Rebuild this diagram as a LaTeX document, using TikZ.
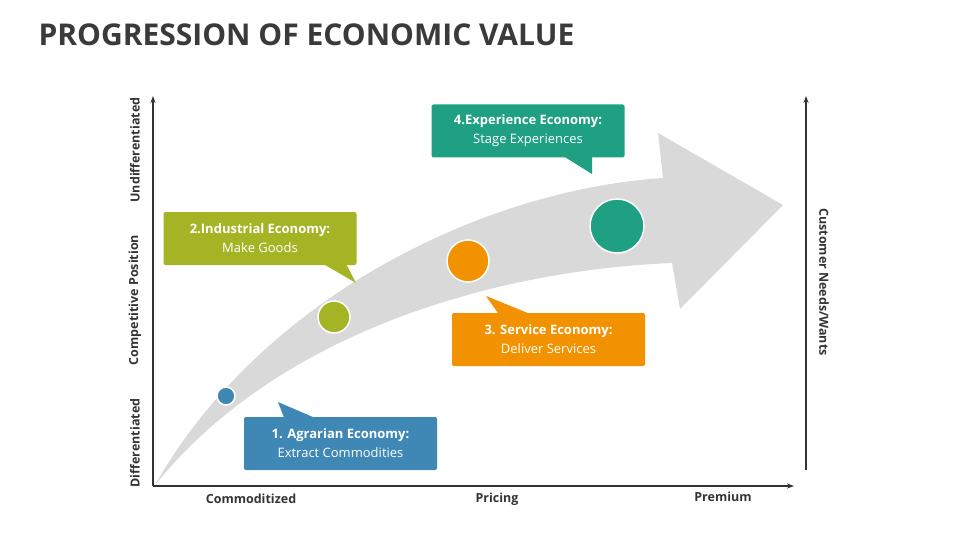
\documentclass[tikz,border=0pt]{standalone}
\usepackage{fontspec}
\setmainfont{Open Sans}
\usetikzlibrary{arrows.meta}
\definecolor{cblue}{HTML}{3F87B5}
\definecolor{cgreen}{HTML}{A5B425}
\definecolor{corange}{HTML}{F39200}
\definecolor{cteal}{HTML}{1FA083}
\definecolor{ctitle}{HTML}{3A3A3A}
\begin{document}
\begin{tikzpicture}[x=1pt,y=-1pt,
  ax/.style={draw=black!80,line width=1.2pt,-{Stealth[length=7pt,width=5pt]}},
  axlbl/.style={font=\bfseries\fontsize{12.5}{14}\selectfont,text=black!80},
  box/.style={rounded corners=2pt,minimum width=193pt,minimum height=53pt,align=center,text=white,font=\fontsize{13}{19}\selectfont,inner sep=0pt},
  dot/.style={circle,draw=white,line width=1.5pt,inner sep=0pt}]
\useasboundingbox (0,0) rectangle (960,540);
\node[anchor=west,font=\bfseries\fontsize{30}{34}\selectfont,text=ctitle] (title) at (35,35) {PROGRESSION OF ECONOMIC VALUE};
% big arrow
\fill[black!15] (155,485) .. controls (260,300) and (480,190) .. (663,178)
  -- (658,133) -- (783,205) -- (680,309) -- (672,263)
  .. controls (500,270) and (280,330) .. (155,485) -- cycle;
% axes
\coordinate (o) at (153,486);
\coordinate (ytop) at (153,96);
\coordinate (xend) at (794,486);
\coordinate (rb) at (806,470);
\coordinate (rt) at (806,96);
\draw[ax] (o) -- (ytop);
\draw[ax] (o) -- (xend);
\draw[ax] (rb) -- (rt);
\node[axlbl,rotate=90] (l1) at (135,443) {Differentiated};
\node[axlbl,rotate=90] (l2) at (135,300) {Competitive Position};
\node[axlbl,rotate=90] (l3) at (135,150) {Undifferentiated};
\node[axlbl] (b1) at (251,499) {Commoditized};
\node[axlbl] (b2) at (497,499) {Pricing};
\node[axlbl] (b3) at (723,497) {Premium};
\node[axlbl,rotate=-90] (r1) at (824,282) {Customer Needs/Wants};
% dots
\node[dot,fill=cblue,minimum size=18pt] (d1) at (226,396) {};
\node[dot,fill=cgreen,minimum size=32pt] (d2) at (334,317) {};
\node[dot,fill=corange,minimum size=42pt] (d3) at (468,261) {};
\node[dot,fill=cteal,minimum size=54pt] (d4) at (617,226) {};
% callouts
\fill[cblue] (278,402) -- (285,420) -- (320,420) -- cycle;
\node[box,fill=cblue] (c1) at (340.5,443.5) {\textbf{1. Agrarian Economy:}\\Extract Commodities};
\fill[cgreen] (356,283) -- (320,262) -- (345,262) -- cycle;
\node[box,fill=cgreen] (c2) at (260,238.5) {\textbf{2.Industrial Economy:}\\Make Goods};
\fill[corange] (486,296) -- (500,316) -- (535,316) -- cycle;
\node[box,fill=corange] (c3) at (548.5,339.5) {\textbf{3. Service Economy:}\\Deliver Services};
\fill[cteal] (592,174) -- (560,154) -- (592,154) -- cycle;
\node[box,fill=cteal] (c4) at (528,131) {\textbf{4.Experience Economy:}\\Stage Experiences};
\end{tikzpicture}
\end{document}
